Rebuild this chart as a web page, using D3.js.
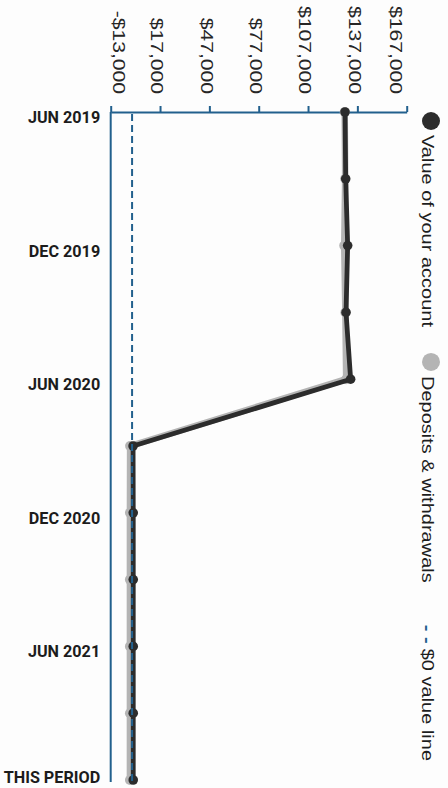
<!DOCTYPE html>
<html>
<head>
<meta charset="utf-8">
<script src="https://cdn.jsdelivr.net/npm/d3@7"></script>
<style>
  html, body { margin: 0; padding: 0; background: #fdfdfd; }
  svg { display: block; }
</style>
</head>
<body>
<svg id="chart" width="448" height="788"></svg>
<script>
// Quarterly statement periods, top to bottom
const periods = ["Jun 2019", "Sep 2019", "Dec 2019", "Mar 2020", "Jun 2020", "Sep 2020",
                 "Dec 2020", "Mar 2021", "Jun 2021", "Sep 2021", "This period"];
// Periods that carry a label on the time axis, and their text
const labelledPeriods = ["Jun 2019", "Dec 2019", "Jun 2020", "Dec 2020", "Jun 2021", "This period"];
const periodLabels = ["JUN 2019", "DEC 2019", "JUN 2020", "DEC 2020", "JUN 2021", "THIS PERIOD"];
// Dollar values
const accountValue = [129500, 129900, 131100, 130100, 132900, 600, 700, 700, 700, 700, 700];
const depositsWithdrawals = [129300, 129600, 129000, 129700, 130200, -1200, -1300, -1300, -1300, -1300, -1300];
const valueTicks = [-13000, 17000, 47000, 77000, 107000, 137000, 167000];
const legendItems = ["Value of your account", "Deposits & withdrawals", "$0 value line"];

const svg = d3.select("#chart");
const axisBlue = "#22608d";
const darkLine = "#2c2c2c";
const greyLine = "#b4b4b4";

const x = d3.scaleLinear().domain([-13000, 167000]).range([110.7, 406.7]);
const y = d3.scalePoint().domain(periods).range([112, 780]);

const money = v => (v < 0 ? "-" : "") + "$" + d3.format(",")(Math.abs(v));

// Value axis along the top, labels turned to read downward
const xAxis = svg.append("g")
  .attr("transform", `translate(0,${y(periods[0])})`)
  .call(d3.axisTop(x).tickValues(valueTicks).tickFormat(money).tickSize(6).tickSizeOuter(0));
xAxis.select(".domain").attr("stroke", axisBlue).attr("stroke-width", 2);
xAxis.selectAll(".tick line").attr("stroke", axisBlue).attr("stroke-width", 2);
xAxis.selectAll(".tick text")
  .attr("fill", "#262626")
  .attr("font-family", "Liberation Sans, Arial, sans-serif")
  .attr("font-size", 16)
  .attr("text-anchor", "end")
  .attr("dominant-baseline", "central")
  .attr("y", null).attr("dy", null)
  .attr("transform", (d, i) => {
    let dx = -3.5;
    if (i === 0) dx = 7.5;
    if (i === valueTicks.length - 1) dx = -11.7;
    return `translate(${dx},-18) rotate(90) scale(1.32,1)`;
  });

// Time axis down the left side
const yAxis = svg.append("g")
  .attr("transform", `translate(${x(-13000)},0)`)
  .call(d3.axisLeft(y).tickValues(labelledPeriods)
    .tickFormat(d => periodLabels[labelledPeriods.indexOf(d)])
    .tickSize(0).tickSizeOuter(0).tickPadding(10.5));
yAxis.select(".domain").attr("stroke", axisBlue).attr("stroke-width", 2)
  .attr("d", `M0,${y(periods[0])}V${y(periods[periods.length - 1]) + 2}`);
yAxis.selectAll(".tick text")
  .attr("fill", "#1c1c1c")
  .attr("font-family", "Roboto, Liberation Sans, Arial, sans-serif")
  .attr("font-weight", "bold")
  .attr("font-size", 16.2)
  .attr("dy", null)
  .attr("y", (d, i) => (i === labelledPeriods.length - 1 ? -3 : 5))
  .attr("dominant-baseline", "central");

// Deposits & withdrawals line (under)
const greyData = periods.map((p, i) => ({ p, v: depositsWithdrawals[i] }));
const line = d3.line().x(d => x(d.v)).y(d => y(d.p));
svg.append("path").datum(greyData)
  .attr("fill", "none").attr("stroke", greyLine).attr("stroke-width", 6.5)
  .attr("stroke-linejoin", "round").attr("d", line);
svg.append("g").selectAll("circle").data(greyData).join("circle")
  .attr("cx", d => x(d.v)).attr("cy", d => y(d.p)).attr("r", 5).attr("fill", greyLine);

// Account value line
const darkData = periods.map((p, i) => ({ p, v: accountValue[i] }));
svg.append("path").datum(darkData)
  .attr("fill", "none").attr("stroke", darkLine).attr("stroke-width", 4.8)
  .attr("stroke-linejoin", "round").attr("d", line);
svg.append("g").selectAll("circle").data(darkData).join("circle")
  .attr("cx", d => x(d.v)).attr("cy", d => y(d.p)).attr("r", 4.8).attr("fill", darkLine);

// $0 reference line on top
svg.append("line")
  .attr("x1", x(0)).attr("x2", x(0))
  .attr("y1", y(periods[0]) + 2).attr("y2", y(periods[periods.length - 1]) + 2)
  .attr("stroke", axisBlue).attr("stroke-width", 2).attr("stroke-dasharray", "7,4");

// Legend, turned to read downward along the right edge
const legend = svg.append("g").attr("font-family", "Liberation Sans, Arial, sans-serif");
const gaps = [26, 42, 0];
let cursor = 112;
legendItems.forEach((label, i) => {
  if (i < 2) {
    legend.append("circle").attr("cx", 431).attr("cy", cursor + 9).attr("r", 9)
      .attr("fill", i === 0 ? darkLine : greyLine);
    cursor += 23;
  } else {
    legend.append("text").text("- -")
      .attr("transform", `translate(427,${cursor}) rotate(90) scale(1.25,1)`)
      .attr("font-size", 16).attr("font-weight", "bold").attr("fill", axisBlue)
      .attr("dominant-baseline", "central");
    cursor += 24;
  }
  const t = legend.append("text").text(label)
    .attr("transform", `translate(427,${cursor}) rotate(90) scale(1.25,1)`)
    .attr("font-size", 16).attr("fill", "#1e1e1e")
    .attr("dominant-baseline", "central");
  cursor += t.node().getComputedTextLength() * 1.25 + gaps[i];
});
</script>
</body>
</html>
